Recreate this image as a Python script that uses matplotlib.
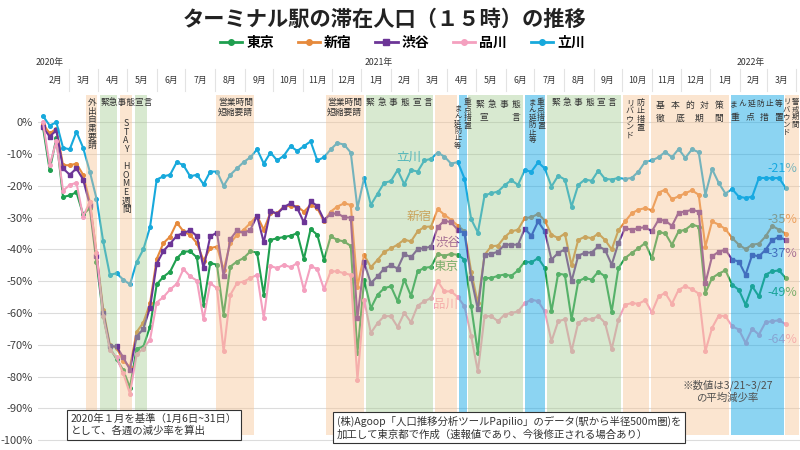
import numpy as np
import pandas as pd
import matplotlib
matplotlib.use("Agg")
import matplotlib.pyplot as plt
import matplotlib.dates as mdates
from matplotlib.lines import Line2D

plt.rcParams['font.family'] = ['Noto Sans CJK JP', 'DejaVu Sans']

# ── data: weekly change vs. Jan 2020 (%), week starting 2020-02-03 ────────────
weeks = pd.date_range("2020-02-03", periods=112, freq="7D")

tokyo = [-1.5, -15, -5, -23.5, -23, -22, -29, -27, -44, -61,
         -71, -74.5, -78, -83.5, -71.2, -70.6, -64.3, -51, -48.6, -47,
         -42.8, -40.7, -40.6, -42.5, -57.4, -44.3, -44.8, -60.6, -45.4, -43.8,
         -42.7, -40.6, -41, -54.3, -37, -36.5, -36.1, -35.7, -34.9, -43,
         -33.6, -35.4, -43.3, -35.9, -37, -37.5, -38.9, -72.6, -49.6, -58.5,
         -54.3, -52.2, -51.6, -56.3, -49.5, -54.6, -46.9, -45.8, -45.5, -41.4,
         -42, -41.4, -41.7, -43.2, -57.9, -72.6, -49, -49, -48.3, -47.9,
         -48.3, -46.6, -43.8, -44.1, -42.7, -45.8, -59.5, -47.6, -48, -62,
         -50, -49, -49.5, -47, -48.5, -59.6, -45.9, -42.7, -41.1, -39.6,
         -38, -42.7, -34.6, -34.9, -38.5, -34.3, -33.8, -32.2, -32.8, -53.7,
         -49, -47.6, -46.6, -51.1, -52.7, -57.4, -51.6, -54.8, -47.9, -46.9,
         -46.6, -49]
shinjuku = [-0.5, -3.5, -2, -13.5, -13.5, -13, -16.5, -25, -41, -59,
            -70, -71, -75, -77, -66, -63, -57, -43, -38, -36,
            -31.6, -34.3, -35.5, -38, -43.5, -39.6, -39.1, -46.4, -38, -35.4,
            -33.8, -31.7, -29.4, -33.8, -28.4, -28.6, -26.5, -26.3, -26.5, -28.1,
            -26, -27, -31.2, -28.1, -26.5, -25.5, -26, -51.7, -41.7, -45.6,
            -43.3, -40.8, -39.7, -38.5, -36.9, -37.5, -34.3, -32.9, -32.8, -27.3,
            -29.1, -30.7, -32.5, -34.3, -47, -57, -41.7, -39, -38.8, -36.1,
            -34.3, -33.8, -30.1, -29.9, -28.8, -30.9, -35.4, -36.4, -35, -45,
            -37, -36, -36.5, -35, -37, -40, -34, -31.2, -28.6, -27.5,
            -27, -27.7, -22.1, -21.2, -24.2, -23.3, -22.3, -21.4, -22.8, -39.1,
            -31.2, -32.2, -33.6, -36.4, -38.5, -39.9, -38.5, -38.2, -35.9, -32.6,
            -33.8, -35]
shibuya = [-1.5, -4.5, -2.5, -14.5, -16.5, -14.5, -18, -26, -42, -60,
           -70.5, -70.5, -74, -77.8, -67.5, -65, -58.3, -44.5, -40.5, -38.2,
           -35.7, -34.8, -34, -35.8, -45.9, -35.9, -34.7, -48.5, -36.8, -34,
           -34.9, -33.8, -29.4, -37.8, -27.8, -28.8, -26.7, -25.5, -27, -31.5,
           -24.9, -26.3, -30.7, -28.9, -28.6, -29.9, -30, -61.6, -44.1, -50.6,
           -48.5, -46, -45, -46, -41.4, -42.5, -39.9, -39.6, -39.1, -33,
           -30.9, -31.5, -33.8, -34.9, -49, -58.9, -41.7, -41.4, -40.7, -38.5,
           -38.5, -38.5, -33.5, -35.7, -31.2, -34.3, -43.2, -41.1, -40, -50,
           -42, -41, -41, -39, -40.1, -44.8, -38, -33.3, -33.8, -33.3,
           -33, -34.3, -30.7, -30.9, -32.6, -28.4, -28.1, -27.5, -28.1, -50.6,
           -42.2, -40.7, -40.1, -43.2, -43.8, -48, -41.7, -42.2, -40.1, -37,
           -36.1, -37]
shinagawa = [0, -13.4, -6, -21.5, -19.7, -19, -29.7, -25, -41, -61,
             -71.5, -74, -79, -85.4, -73, -71.2, -68.4, -56.7, -55, -52.6,
             -50.8, -46.2, -48.5, -49.8, -62, -50.6, -52.2, -72.1, -54.3, -50.6,
             -50.1, -49, -48, -61.6, -45.2, -45.9, -44.8, -45.6, -44.3, -52.7,
             -45.2, -46.2, -52.5, -46.9, -46.9, -47.5, -48, -81, -55.8, -66.3,
             -63.2, -61, -61, -64.4, -60, -62.9, -57.7, -56.3, -55.3, -50,
             -53.2, -53.2, -55, -57.9, -67.3, -78.4, -61, -61, -62.6, -60.5,
             -60, -59.5, -56.9, -55.8, -56.3, -59.5, -68.9, -62.6, -62, -72,
             -63, -62, -62, -61, -63.1, -71.4, -62.1, -57.4, -56.9, -57.1,
             -56, -59.8, -54.8, -53.7, -57.1, -52.7, -51.6, -52.5, -53.9, -72,
             -64.7, -60.8, -61, -64.2, -65.2, -69.4, -65, -66.8, -62.9, -62.6,
             -62.3, -63.5]
tachikawa = [2, -1, 0, -8, -8.5, -3, -8, -15.5, -24, -37.5,
             -48, -47.5, -49.5, -51, -44, -40, -33, -18, -17, -16.5,
             -12.5, -13.5, -17, -16.5, -19.5, -15.5, -15.5, -20, -16.5, -14.5,
             -12.5, -11, -8.5, -13, -9.5, -12, -10.5, -7.5, -9, -7.5,
             -6, -12, -11, -8.5, -6.5, -7, -9.5, -27, -17.5, -26,
             -22.5, -19, -18.5, -15, -19.5, -15, -15.5, -12, -11.5, -9.5,
             -10.8, -13, -12.5, -17.7, -30.5, -34.7, -23, -22.3, -21.8, -19.8,
             -18.2, -19.7, -15.1, -15.5, -12.6, -14.5, -20.2, -16.8, -18, -26.5,
             -19.7, -18, -18.4, -15.2, -17.8, -18, -17.5, -17.8, -17.5, -15.5,
             -12.4, -12, -11, -9.3, -11, -8.4, -11.2, -8.5, -9.4, -22.8,
             -14.7, -19.1, -22.4, -21, -23.4, -23.8, -23.4, -17.5, -17.5, -17.6,
             -17.5, -20.6]

names = ["東京", "新宿", "渋谷", "品川", "立川"]
values = [tokyo, shinjuku, shibuya, shinagawa, tachikawa]
colors = ["#1f9f4f", "#e68a3c", "#6c3597", "#f4a0bf", "#17a9dc"]
markers = ["o", "o", "s", "o", "o"]
end_labels = ["-49%", "-35%", "-37%", "-64%", "-21%"]
end_offsets = [-4.5, 4.3, -4.3, -5, 6]
name_pos = [("2021-03-31", -45.4), ("2021-03-02", -29.7),
            ("2021-04-02", -37.6), ("2021-03-30", -57.4), ("2021-02-20", -11.0)]

# policy periods: start, end, kind
periods = [
    ("2020-03-18", "2020-03-31", "peach"),
    ("2020-04-02", "2020-04-21", "green"),
    ("2020-04-23", "2020-05-07", "peach"),
    ("2020-05-09", "2020-05-23", "green"),
    ("2020-08-01", "2020-09-12", "peach"),
    ("2020-11-24", "2021-01-05", "peach"),
    ("2021-01-05", "2021-03-18", "green"),
    ("2021-03-18", "2021-04-12", "peach"),
    ("2021-04-12", "2021-04-22", "blue"),
    ("2021-04-22", "2021-06-20", "green"),
    ("2021-06-20", "2021-07-13", "blue"),
    ("2021-07-13", "2021-10-01", "green"),
    ("2021-10-01", "2021-10-30", "peach"),
    ("2021-10-30", "2022-01-22", "peach"),
    ("2022-01-22", "2022-03-20", "blue"),
    ("2022-03-20", "2022-04-10", "peach"),
]
band_style = {"peach": ("#f7c290", 0.42), "green": ("#a3cb8f", 0.42),
              "blue": ("#1aaae6", 0.5)}

year_labels = [("2020-01-26", "2020年"), ("2021-01-05", "2021年"), ("2022-01-29", "2022年")]


def D(s):
    return mdates.date2num(pd.Timestamp(s))


fig = plt.figure(figsize=(8, 4.5), dpi=100)
ax = fig.add_axes([38/800, 8/450, 762/800, 347/450])
x = mdates.date2num(weeks)
x0, x1 = x[0] - 5.2, x[0] + 792
ax.set_xlim(x0, x1)
ax.set_ylim(-100.6, 8.6)
for s in ax.spines.values():
    s.set_visible(False)
ax.set_xticks([])
ax.set_yticks(np.arange(0, -101, -10))
ax.set_yticklabels([f"{v}%" for v in range(0, -101, -10)], fontsize=8, color="#404040")
ax.tick_params(axis="y", length=0, pad=4)
ax.grid(axis="y", color="#dcdcdc", lw=0.8, zorder=0)
ax.set_axisbelow(True)

# lines
for nm, v, c, m, el, eo, npos in zip(names, values, colors, markers, end_labels,
                                      end_offsets, name_pos):
    ax.plot(x, v, color=c, lw=1.5, marker=m, ms=2.6 if m == "o" else 3.0,
            zorder=2)
    ax.text(x[-1] - 3, v[-1] + eo, el, color=c, fontsize=9, ha="center",
            va="center", zorder=2)
    ax.text(D(npos[0]), npos[1], nm, color=c, fontsize=9, ha="center",
            va="center", zorder=2)

# translucent policy bands over the lines
yb = (-98.5 + 100.6) / 109.2
for s, e, k in periods:
    c, a = band_style[k]
    ax.axvspan(D(s) + 0.8, min(D(e), x1) - 0.8, ymin=yb, ymax=1, color=c,
               alpha=a, lw=0, zorder=3)

lab = dict(fontsize=6.3, color="#333333", zorder=6)


def vtext(xd, ytop, s, step=8.6, size=6.0):
    for k, ch in enumerate(s):
        if ch == " ":
            continue
        ax.annotate(ch, (xd, ytop), xytext=(0, -k * step * 0.72),
                    textcoords="offset points", ha="center", va="top",
                    **{**lab, "fontsize": size})


def htext(xa, xb, y, s, size=6.3):
    n = len(s)
    for k, ch in enumerate(s):
        if ch == " ":
            continue
        xc = xa + (xb - xa) * (k / (n - 1) if n > 1 else 0.5)
        ax.text(xc, y, ch, ha="center", va="top", **{**lab, "fontsize": size})


top = 7.6
vtext(D("2020-03-25"), top, "外出自粛要請", size=6.3)
ax.text(D("2020-04-03"), top, "緊急事態宣言", ha="left", va="top", **lab)
vtext(D("2020-04-30"), 1.0, "STAY HOME週間", step=8.6, size=6.3)
ax.text(D("2020-08-04"), top, "営業時間\n短縮要請", ha="left", va="top",
        linespacing=1.1, **lab)
ax.text(D("2020-11-26"), top, "営業時間\n短縮要請", ha="left", va="top",
        linespacing=1.1, **lab)
htext(D("2021-01-10"), D("2021-03-12"), top, "緊急事態宣言")
vtext(D("2021-04-12"), top - 2, "まん延防止等", step=7.4, size=5.2)
vtext(D("2021-04-22"), top, "重点措置", step=8.0, size=5.6)
htext(D("2021-05-05"), D("2021-06-12"), top - 0.5, "緊急事態")
htext(D("2021-05-09"), D("2021-06-12"), top - 4.6, "宣  言")
vtext(D("2021-06-29"), top, "まん延防止等", step=7.6, size=5.4)
vtext(D("2021-07-08"), top, "重点措置", step=8.0, size=5.6)
htext(D("2021-07-24"), D("2021-09-20"), top, "緊急事態宣言")
vtext(D("2021-10-09"), top, "リバウンド", step=8.2, size=5.8)
vtext(D("2021-10-20"), top, "防止措置", step=8.2, size=5.8)
htext(D("2021-11-10"), D("2022-01-10"), top - 1, "基本的対策")
htext(D("2021-11-10"), D("2022-01-10"), top - 5, "徹底期間")
htext(D("2022-01-25"), D("2022-03-14"), top - 0.5, "まん延防止等", size=5.6)
htext(D("2022-01-27"), D("2022-03-14"), top - 4.6, "重点措置")
vtext(D("2022-03-22"), top, "リバウンド", step=7.6, size=5.3)
vtext(D("2022-03-31"), top, "警戒期間", step=7.6, size=5.3)

# header: years, months, separators
tr = ax.get_xaxis_transform()
for d, t in year_labels:
    ax.text(D(d), 1.095, t, transform=tr, fontsize=6.3, color="#333333",
            ha="left", va="center", clip_on=False)
months = pd.date_range("2020-02-01", "2022-04-01", freq="MS")
for a, b in zip(months[:-1], months[1:]):
    xa, xb = max(D(a), x0), min(D(b), x1)
    ax.text((xa + xb) / 2, 1.043, f"{a.month}月", transform=tr, fontsize=6.3,
            color="#333333", ha="center", va="center", clip_on=False)
    if D(b) < x1:
        ax.plot([D(b), D(b)], [1.012, 1.075], transform=tr, color="#e3e3e3",
                lw=0.8, clip_on=False)

# title and legend
fig.text(0.481, 0.958, "ターミナル駅の滞在人口（１５時）の推移", ha="center",
         va="center", fontsize=15.3, fontweight="bold", color="#222222")
handles = [Line2D([], [], color=c, lw=2, marker=m, ms=4 if m == "o" else 4.5)
           for c, m in zip(colors, markers)]
fig.legend(handles, names, loc="center", bbox_to_anchor=(0.503, 0.905), ncol=5,
           frameon=False, prop=dict(size=10, weight="bold"), handlelength=1.6,
           handletextpad=0.3, columnspacing=1.7, borderpad=0)

# notes
ax.text(D("2022-01-19"), -84.5, "※数値は3/21~3/27\nの平均減少率", fontsize=7.5,
        color="#505050", ha="center", va="center", linespacing=1.2, zorder=6)
box = dict(boxstyle="square,pad=0.35", fc="white", ec="#333333", lw=0.8)
fig.text(71/800, 1 - 425/450, "2020年１月を基準（1月6日~31日）\nとして、各週の減少率を算出",
         fontsize=7.5, color="#333333", ha="left", va="center", linespacing=1.25,
         bbox=box, zorder=10)
fig.text(337/800, 1 - 428/450,
         "(株)Agoop「人口推移分析ツールPapilio」のデータ(駅から半径500m圏)を\n"
         "加工して東京都で作成（速報値であり、今後修正される場合あり）",
         fontsize=7.5, color="#333333", ha="left", va="center", linespacing=1.25,
         bbox=box, zorder=10)

fig.savefig("out.png", dpi=100)
